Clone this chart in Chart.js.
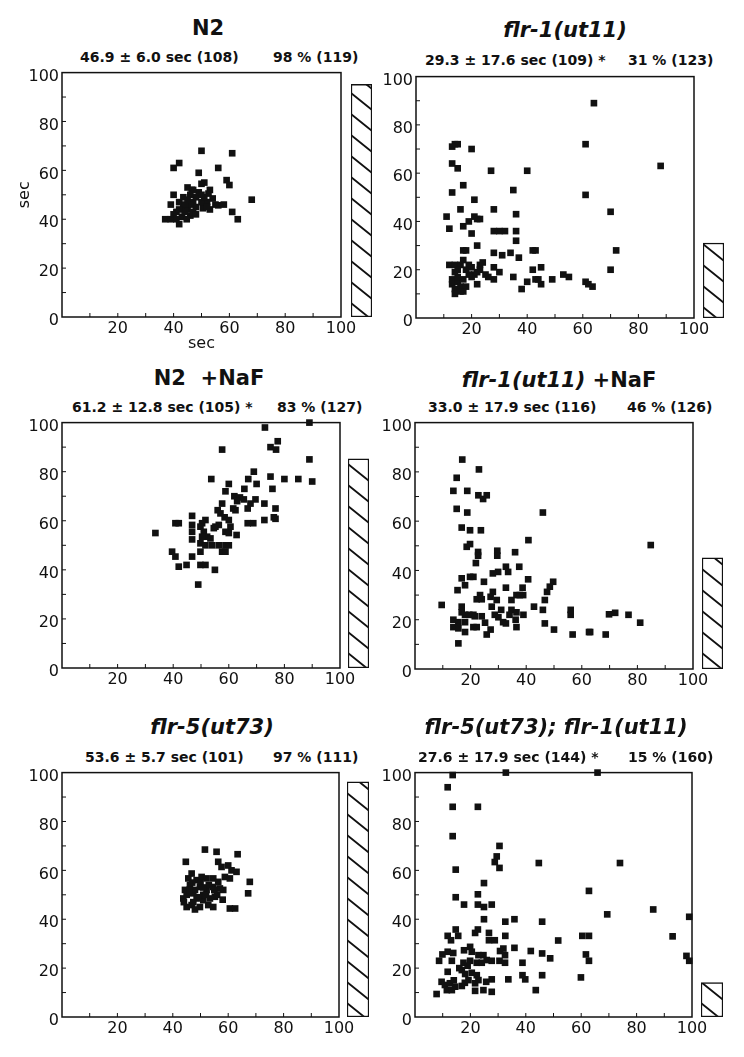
<!DOCTYPE html>
<html>
<head>
<meta charset="utf-8">
<script src="https://cdn.jsdelivr.net/npm/chart.js@4"></script>
<style>
    body { margin: 0; background: #fff; }
    #page { position: relative; width: 744px; height: 1057px; overflow: hidden; font-family: "DejaVu Sans", sans-serif; color: #111; }
    #page canvas { position: absolute; }
    .title { position: absolute; font-weight: bold; font-size: 21px; white-space: pre; transform: translate(-50%, -50%); }
    .stat { position: absolute; font-weight: bold; font-size: 14px; white-space: pre; transform: translateY(-50%); }
</style>
</head>
<body>
<div id="page"></div>
<script>
// recovery time (sec) of each animal, x = first trial, y = second trial
const n2 = [[50,68],[61,67],[42,63],[40,61],[56,61],[49,59],[59,56],[60,54],[51,55],[68,48],[61,43],[63,40],[40,50],[39,46],[37,40],[42,38],[45,53],[46.5,52],[50,54.5],[52.5,50.5],[54,48.5],[56,45.7],[53,44],[50.5,44.5],[47,47],[43.5,45],[41,43],[43,41],[46,41.5],[39,40],[44.7,40],[42,47],[48,49],[46,50],[43.5,49],[48,45],[52,47],[55,46],[50,47],[45,44],[40,42],[44,43],[47,43],[49,51],[51,49],[53,52],[58,46],[41,40],[46,46],[48,42],[44,46],[42,44],[45,48],[47,52],[50,50],[52,45]];
const flr1 = [[88,63],[64,89],[61,72],[61,51],[70,44],[72,28],[70,20],[61,15],[62,14],[63.5,13],[53,18],[55,17],[49,16],[45,21],[45,14],[42,28],[43,28],[42,20],[40,15],[43,16],[44,16],[38,12],[40,61],[35,53],[36,43],[36,36],[36,32],[37,25],[34,27],[35,17],[31,26],[32,36],[30,36],[28,36],[28,27],[28,21],[27,61],[28,45],[30,19],[28,16],[26,17],[22,41],[23,41],[21,49],[20,70],[21,42],[20,35],[17,55],[16,45],[17,38],[19,40],[17,28],[18,28],[22,30],[14,72],[15,72],[13,71],[13,64],[15,62],[13,52],[11,42],[12,37],[12,22],[14,22],[16,22],[17,24],[19,22],[23,22],[23,20],[21,18],[22,14],[20,17],[13,16],[13,14],[15,15],[17,16],[14,12],[16,13],[18,13],[14,10],[17,11],[19,18],[15,20],[24,23],[18,20],[20,21],[25,18],[15,17],[16,11],[22,19],[14,19]];
const n2NaF = [[89,100],[73,98],[77.6,92.4],[75,90],[77,89],[57.6,89],[89,85],[69,80],[53.7,77],[75,78],[80,77],[85,77],[90,76],[67,77],[70,75],[60,75],[65.6,73],[75.7,73],[58.8,72],[62,70],[64,69.5],[63,68],[65.4,68.7],[69.6,68.7],[67.8,67],[66.8,65],[57.6,67],[72.8,67],[61.6,65],[62.4,64.3],[56,64.3],[57,63],[58.5,61.4],[60,60.3],[76.8,65],[76.2,61.4],[76.8,60.8],[72.8,60.3],[66.8,59],[68.8,59],[60.6,57.6],[58.8,55.5],[60,55],[62.8,54.2],[56.4,58.3],[55.2,57.6],[54.6,57],[51.6,60.3],[50.4,59],[49.8,57.6],[51,55.5],[52.2,53.5],[53.4,52.8],[46.8,62],[40.8,59],[42,59],[46.8,58.3],[46.8,55.5],[46.8,52.4],[33.6,55],[50.4,53.5],[49.8,50.8],[51.6,50],[54,50],[56.4,50],[58.8,50],[60,50],[49.8,47.4],[46.8,45.4],[57.6,47.4],[58.8,47.4],[39.6,47.4],[40.8,45.4],[42,41.3],[44.8,42],[49.8,42],[51.6,42],[55,40],[49,34]];
const flr1NaF = [[17,85],[23,81],[15,77.6],[13.8,72.3],[18.8,72.3],[22.8,70.5],[24.5,69],[25.8,70.5],[15,65],[18.8,63.5],[46,63.5],[16.8,57.4],[19.8,56.3],[23.7,56.3],[40.8,52.3],[18.6,49.6],[19.8,50.7],[22.7,47.5],[22.7,46],[29.6,48],[29.6,46],[36,47.4],[21.9,43],[32.7,41.5],[29.9,39.4],[28,38.8],[33.5,39.4],[37.5,41.5],[16.8,36.8],[19.8,37.4],[21,37.4],[24.8,35.4],[40.7,36.4],[49.7,35.4],[48.5,33.4],[47.5,31.3],[15.3,32],[18,34],[32.7,33],[38.7,33],[23.4,30],[22.2,28.3],[24,28.3],[28,31.3],[27.2,29.3],[29.4,28],[36.5,30],[37.7,30],[38.9,30],[34.7,28],[46.7,28],[9.6,26],[16.8,25.3],[27.6,25.3],[42.8,25.3],[16.8,23],[18,22],[19.5,22],[21,22],[21.5,21.4],[24,21.4],[31,24],[34.7,24],[36.5,23],[39,22],[46,24],[56,24],[56,22],[28.7,22],[30,21],[34,22],[13.8,20],[15.6,19],[18,19],[21,17],[22.2,17],[13.8,17],[15.6,16.5],[18,15],[25.2,18.8],[31.7,19],[32.7,18.5],[36.2,20],[36.5,17],[46.7,18.5],[50,16],[27.2,16],[25.8,14],[15.6,10.4],[56.7,14],[63,15],[84.8,50.3],[69.8,22.2],[72,22.8],[76.8,22],[81,18.8],[68.6,14],[62.6,15]];
const flr5 = [[51.6,68.5],[55.8,67.6],[63.4,66.6],[44.7,63.5],[56.4,63.5],[57.6,61.4],[60,62],[61.2,60],[63,59.4],[58.8,57.3],[60.6,56.7],[67.8,55.3],[67.2,50.6],[60.6,44.4],[62.5,44.4],[58.2,52],[46.8,58.7],[43.8,48.5],[45,45],[46.8,45.8],[47.4,50.6],[46.2,54],[45.6,56.7],[48.6,56],[50.4,57.3],[52.2,56.7],[54.6,56.7],[56.4,55.3],[49.8,53.2],[52.2,52],[54.6,53.2],[57,52.6],[48.6,48.5],[51,47.8],[53.4,48.5],[55.2,49.2],[52.8,45.8],[54.6,45],[49.8,45],[44.4,52],[48,52],[51,50],[47.4,47],[50,55],[53,54],[45,50],[56,50],[58,48],[48,44],[44,47],[46,52],[49,49],[52,50],[55,52],[47,55],[51,53]];
const flr5flr1 = [[13.6,99],[32.8,100],[65.9,100],[11.8,94],[13.6,86],[22.7,86],[13.6,74],[30.5,70],[29.5,65.7],[28.8,63.4],[30.5,61],[44.7,63],[14.7,60.3],[24.9,54.8],[14.7,49],[22.7,50.2],[17.7,46],[22.7,46],[24.9,45],[27.7,46],[24.9,40],[32.6,39],[35.9,40],[45.9,39],[62.8,51.6],[69.4,42],[14.7,35.8],[11.8,33.2],[13,31.4],[15.6,33.2],[21.7,34.4],[22.7,35.8],[26.7,34.4],[26.7,31.4],[28.8,31.4],[32.6,33.2],[35.9,28.3],[51.7,31.3],[60.4,33.2],[62.8,33.2],[61.7,25.6],[62.8,23],[11.8,26.7],[13.8,26.2],[9.9,25.6],[8.7,23],[13.3,23],[17.7,27.3],[19.9,28.7],[20.5,26.7],[22.9,25.3],[24.7,25.3],[25.9,23.3],[27.7,23],[30.7,27],[31.9,28],[32.5,25.3],[30.5,23],[32.5,22.2],[41.8,27],[45.9,26],[48.8,24],[38.8,22.2],[17.5,22.2],[19.9,23],[22.3,22.2],[24.1,22.2],[11.8,18.5],[16.9,19.2],[18.1,17.6],[20.5,18.1],[22.3,17.1],[38.8,17.1],[39.8,15.4],[45.9,17.1],[33.7,15.4],[59.9,16.2],[9.6,14.4],[10.8,13.1],[12.6,13.8],[14.5,12.4],[11.5,11],[13.3,11],[7.8,9.4],[16.9,12.7],[19.3,15.1],[21.7,13.8],[22.9,15.1],[21.7,10.7],[24.7,11],[27.7,10.3],[27.7,15.4],[25.7,14.4],[43.6,11],[74,63],[86,44],[99,41],[93,33],[98,25],[99,23],[16,20],[19,21],[14,15],[18,14]];

const panelData = [n2, flr1, n2NaF, flr1NaF, flr5, flr5flr1];
const panelTitles = ["N2", "<i>flr-1(ut11)</i>", "N2  +NaF", "<i>flr-1(ut11)</i> +NaF", "<i>flr-5(ut73)</i>", "<i>flr-5(ut73); flr-1(ut11)</i>"];
const meanTexts = ["46.9 ± 6.0 sec (108)", "29.3 ± 17.6 sec (109) *", "61.2 ± 12.8 sec (105) *", "33.0 ± 17.9 sec (116)", "53.6 ± 5.7 sec (101)", "27.6 ± 17.9 sec (144) *"];
const percentTexts = ["98 % (119)", "31 % (123)", "83 % (127)", "46 % (126)", "97 % (111)", "15 % (160)"];
const percentBars = [95, 31, 85, 45, 96, 14];

// page positions: frame [left, top, right, bottom], bar [left, right], title [cx, cy], stats [x1, x2, cy]
const layout = [
    { frame: [62, 72, 341, 317], bar: [351, 372], title: [208, 28], stats: [80, 273, 57] },
    { frame: [416, 76, 694, 318], bar: [703, 724], title: [565, 30], stats: [425, 628, 60] },
    { frame: [62, 422, 340, 668], bar: [348, 369], title: [209, 378], stats: [72, 277, 407] },
    { frame: [415, 422, 693, 669], bar: [702, 723], title: [559, 380], stats: [428, 627, 407] },
    { frame: [62, 772, 339, 1017], bar: [347, 369], title: [212, 727], stats: [85, 273, 757] },
    { frame: [415, 772, 692, 1017], bar: [701, 723], title: [556, 727], stats: [418, 628, 757] },
];

const INK = "#111";
const page = document.getElementById("page");

Chart.defaults.font.family = "'DejaVu Sans', sans-serif";
Chart.defaults.color = INK;

const framePlugin = {
    id: "frame",
    afterDatasetsDraw(chart) {
        const { ctx, chartArea: a, scales: { x, y } } = chart;
        ctx.save();
        ctx.strokeStyle = INK;
        ctx.lineWidth = 1.5;
        ctx.strokeRect(a.left, a.top, a.right - a.left, a.bottom - a.top);
        ctx.lineWidth = 1;
        ctx.beginPath();
        for (let v = 10; v < 100; v += 10) {
            const px = x.getPixelForValue(v);
            const py = y.getPixelForValue(v);
            ctx.moveTo(px, a.bottom);
            ctx.lineTo(px, a.bottom - 4);
            ctx.moveTo(a.left, py);
            ctx.lineTo(a.left + 4, py);
        }
        ctx.stroke();
        ctx.restore();
    }
};

// "\" hatching, one line every 21px going down
function hatchPattern() {
    const w = 26, h = 21;
    const tile = document.createElement("canvas");
    tile.width = w;
    tile.height = h;
    const c = tile.getContext("2d");
    c.fillStyle = "#fff";
    c.fillRect(0, 0, w, h);
    c.strokeStyle = INK;
    c.lineWidth = 1.8;
    c.beginPath();
    c.moveTo(-0.1 * w, -0.1 * h); c.lineTo(1.1 * w, 1.1 * h);
    c.moveTo(-0.1 * w, 0.9 * h); c.lineTo(0.1 * w, 1.1 * h);
    c.moveTo(0.9 * w, -0.1 * h); c.lineTo(1.1 * w, 0.1 * h);
    c.stroke();
    return c.createPattern(tile, "repeat");
}

function addText(cls, html, left, top) {
    const div = document.createElement("div");
    div.className = cls;
    div.innerHTML = html;
    div.style.left = left + "px";
    div.style.top = top + "px";
    page.appendChild(div);
}

function addCanvas(left, top, width, height) {
    const canvas = document.createElement("canvas");
    canvas.width = width;
    canvas.height = height;
    canvas.style.left = left + "px";
    canvas.style.top = top + "px";
    page.appendChild(canvas);
    return canvas;
}

function drawScatter(points, L, withAxisTitles) {
    const [l, t, r, b] = L.frame;
    const yw = 60, xh = withAxisTitles ? 36 : 30, padTop = 12, padRight = 18;
    const canvas = addCanvas(l - yw, t - padTop, r - l + yw + padRight, b - t + padTop + xh);

    new Chart(canvas, {
        type: "scatter",
        data: {
            datasets: [{
                data: points.map(([x, y]) => ({ x, y })),
                pointStyle: "rect",
                pointRadius: 4.7,
                backgroundColor: INK,
                borderWidth: 0,
                clip: false,
            }],
        },
        options: {
            responsive: false,
            animation: false,
            layout: { padding: { top: padTop, right: padRight, left: 0, bottom: 0 } },
            plugins: { legend: { display: false }, tooltip: { enabled: false } },
            scales: {
                x: {
                    min: 0,
                    max: 100,
                    grid: { display: false, drawTicks: false },
                    border: { display: false },
                    ticks: {
                        stepSize: 20,
                        padding: 2,
                        autoSkip: false,
                        maxRotation: 0,
                        font: { size: 16 },
                        callback: v => v === 0 ? "" : v,
                    },
                    title: { display: withAxisTitles, text: "sec", font: { size: 16 }, padding: 0 },
                    afterFit: s => { s.height = xh; },
                },
                y: {
                    min: 0,
                    max: 100,
                    grid: { display: false, drawTicks: false },
                    border: { display: false },
                    ticks: { stepSize: 20, padding: 3, labelOffset: 4, font: { size: 16 } },
                    title: { display: withAxisTitles, text: "sec", font: { size: 16 }, padding: { top: 13, bottom: 0 } },
                    afterFit: s => { s.width = yw; },
                },
            },
        },
        plugins: [framePlugin],
    });
}

function drawBar(value, L, pattern) {
    const [, t, , b] = L.frame;
    const [bl, br] = L.bar;
    const canvas = addCanvas(bl, t, br - bl, b - t);

    new Chart(canvas, {
        type: "bar",
        data: {
            labels: [""],
            datasets: [{
                data: [value],
                backgroundColor: pattern,
                borderColor: INK,
                borderWidth: 1.5,
                borderSkipped: false,
                barPercentage: 1,
                categoryPercentage: 1,
            }],
        },
        options: {
            responsive: false,
            animation: false,
            layout: { padding: 0 },
            plugins: { legend: { display: false }, tooltip: { enabled: false } },
            scales: {
                x: { display: false },
                y: { display: false, min: 0, max: 100 },
            },
        },
    });
}

const hatch = hatchPattern();

layout.forEach((L, i) => {
    addText("title", panelTitles[i], L.title[0], L.title[1]);
    addText("stat", meanTexts[i], L.stats[0], L.stats[2]);
    addText("stat", percentTexts[i], L.stats[1], L.stats[2]);
    drawScatter(panelData[i], L, i === 0);
    drawBar(percentBars[i], L, hatch);
});
</script>
</body>
</html>
